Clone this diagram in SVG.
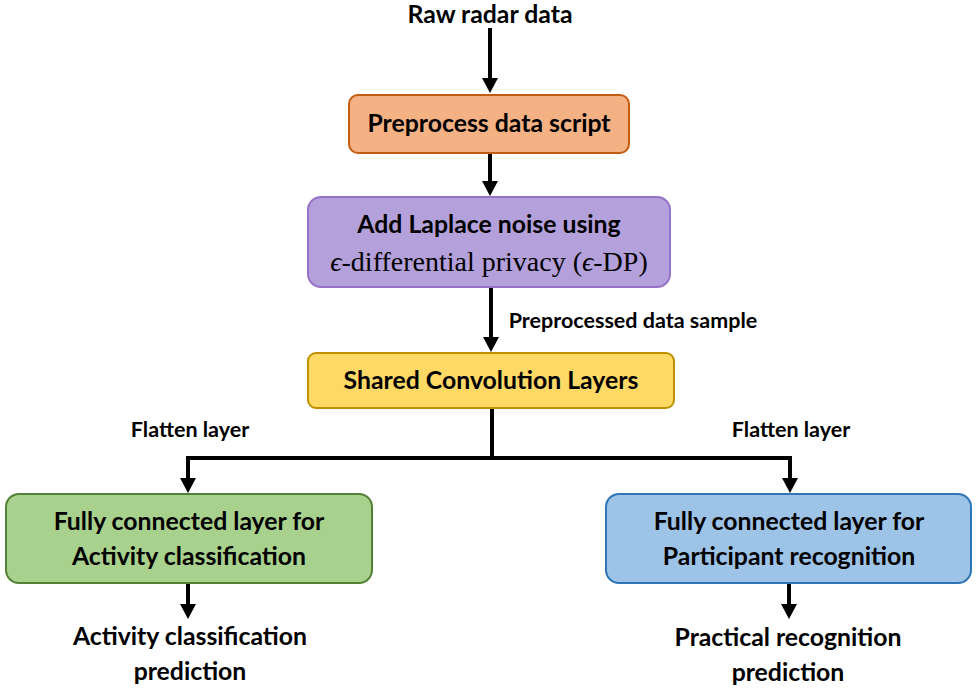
<svg xmlns="http://www.w3.org/2000/svg" width="977" height="688" viewBox="0 0 977 688">
<style>
.t{font-family:Lato,"Open Sans","Liberation Sans",sans-serif;font-weight:bold;fill:#000;text-anchor:middle}
.big{font-size:24.8px}
.sm{font-size:21.5px}
.serif{font-family:"Liberation Serif","DejaVu Serif",serif;font-size:28px;fill:#000;text-anchor:middle}
.ln{stroke:#000;stroke-width:4;fill:none}
</style>
<rect width="977" height="688" fill="#fff"/>
<g id="connectors">
<line class="ln" x1="490" y1="28" x2="490" y2="78"/><path d="M482,78 L498,78 L490,93 Z"/>
<line class="ln" x1="490" y1="153" x2="490" y2="181"/><path d="M482,181 L498,181 L490,196 Z"/>
<line class="ln" x1="491" y1="287" x2="491" y2="337"/><path d="M483,337 L499,337 L491,352 Z"/>
<polyline class="ln" points="492,408 492,458"/>
<polyline class="ln" points="188,478 188,458 790,458 790,478"/>
<path d="M180,478 L196,478 L188,493 Z"/><path d="M782,478 L798,478 L790,493 Z"/>
<line class="ln" x1="188" y1="583" x2="188" y2="604"/><path d="M180,604 L196,604 L188,619 Z"/>
<line class="ln" x1="789" y1="583" x2="789" y2="604"/><path d="M781,604 L797,604 L789,619 Z"/>
</g>
<g id="raw"><text class="t big" x="490" y="23">Raw radar data</text></g>
<g id="preprocess">
<rect x="349" y="95" width="280" height="58" rx="9" fill="#F4B183" stroke="#C55A11" stroke-width="2"/>
<text class="t big" x="489" y="132">Preprocess data script</text>
</g>
<g id="laplace">
<rect x="308" y="197" width="362" height="90" rx="13" fill="#B4A0DA" stroke="#9673C9" stroke-width="2"/>
<text class="t big" x="489" y="233">Add Laplace noise using</text>
<text class="serif" x="489" y="271"><tspan font-style="italic">ϵ</tspan>-differential privacy (<tspan font-style="italic">ϵ</tspan>-DP)</text>
</g>
<g id="label-sample"><text class="t sm" x="633" y="328">Preprocessed data sample</text></g>
<g id="shared">
<rect x="308" y="353" width="366" height="55" rx="8" fill="#FFD966" stroke="#BF9000" stroke-width="2"/>
<text class="t big" x="491" y="389">Shared Convolution Layers</text>
</g>
<g id="flatten-left"><text class="t sm" x="190" y="437">Flatten layer</text></g>
<g id="flatten-right"><text class="t sm" x="791" y="437">Flatten layer</text></g>
<g id="fc-activity">
<rect x="6" y="494" width="366" height="89" rx="13" fill="#A9D18E" stroke="#538135" stroke-width="2"/>
<text class="t big" x="189" y="530">Fully connected layer for</text>
<text class="t big" x="189" y="565">Activity classification</text>
</g>
<g id="fc-participant">
<rect x="606" y="494" width="365" height="89" rx="13" fill="#9DC3E6" stroke="#2E75B6" stroke-width="2"/>
<text class="t big" x="789" y="530">Fully connected layer for</text>
<text class="t big" x="789" y="565">Participant recognition</text>
</g>
<g id="out-activity">
<text class="t big" x="190" y="645">Activity classification</text>
<text class="t big" x="190" y="680">prediction</text>
</g>
<g id="out-participant">
<text class="t big" x="788" y="646">Practical recognition</text>
<text class="t big" x="788" y="681">prediction</text>
</g>
</svg>
